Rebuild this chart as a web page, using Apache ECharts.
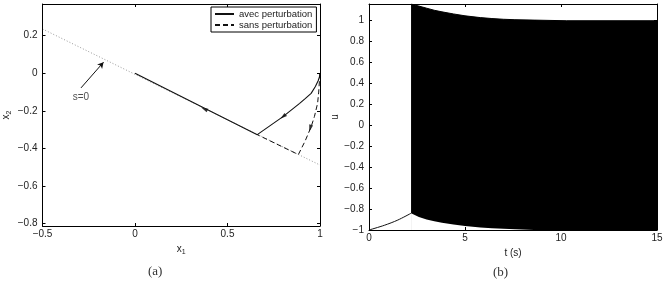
<!DOCTYPE html>
<html>
<head>
<meta charset="utf-8">
<script src="https://cdn.jsdelivr.net/npm/echarts@6/dist/echarts.min.js"></script>
<style>
  html, body { margin: 0; padding: 0; background: #fff; }
  #chart { width: 669px; height: 291px; }
</style>
</head>
<body>
<div id="chart"></div>
<script>
// (a) plan de phase
var sLineX = [-0.5, 1];
var sLineY = [0.236, -0.489];
var avecX = [1, 0.997, 0.99, 0.975, 0.952, 0.92, 0.89, 0.80, 0.661, 0];
var avecY = [0, -0.02, -0.04, -0.07, -0.107, -0.135, -0.16, -0.231, -0.327, 0];
var sansX = [1, 0.997, 0.993, 0.987, 0.97, 0.952, 0.92, 0.883, 0.661];
var sansY = [0, -0.04, -0.1, -0.16, -0.23, -0.285, -0.36, -0.433, -0.327];
var arrowX = [0.375, 0.80, 0.947];
var arrowY = [-0.19, -0.231, -0.293];
var arrowRot = [64, 128, 164];
var noteFrom = [-0.292, -0.078];
var noteTo = [-0.17, 0.059];
var noteText = [-0.292, -0.126];
var yTicksA = [-0.8, -0.6, -0.4, -0.2, 0, 0.2];

// (b) commande u(t)
var startT = [0, 0.8, 1.5, 2.19];
var startU = [-1, -0.955, -0.905, -0.84];
var envT = [2.19, 2.6, 3.0, 3.4, 3.8, 4.4, 5.0, 5.8, 6.4, 7.0, 7.6, 8.6, 10.3, 15];
var envUpper = [1.16, 1.14, 1.12, 1.10, 1.085, 1.065, 1.047, 1.03, 1.021, 1.014, 1.010, 1.006, 1.0, 1.0];
var envLower = [-0.84, -0.875, -0.9, -0.916, -0.93, -0.948, -0.962, -0.976, -0.984, -0.989, -0.993, -0.999, -1, -1];
var yTicksB = [-1, -0.8, -0.6, -0.4, -0.2, 0, 0.2, 0.4, 0.6, 0.8, 1];

function zip(a, b) {
    var out = [];
    for (var i = 0; i < a.length; i++) out.push([a[i], b[i]]);
    return out;
}
function fmt(v) { return String(v).replace('-', '\u2212'); }

var font = 'Liberation Sans';
var nameStyle = { fontFamily: font, fontSize: 10, color: '#222', rich: { sub: { fontSize: 7, padding: [6, 0, 0, 0] } } };
function bottomAxis(grid, min, max, interval, name, gap) {
    return {
        gridIndex: grid, type: 'value', position: 'bottom', min: min, max: max, interval: interval, z: 5,
        name: name, nameLocation: 'middle', nameGap: gap, nameTextStyle: nameStyle,
        axisLine: { onZero: false, lineStyle: { color: '#000', width: 1 } },
        axisTick: { inside: true, length: 3, lineStyle: { color: '#000' } },
        axisLabel: { margin: 3, formatter: fmt, fontFamily: font, fontSize: 10, color: '#222' },
        splitLine: { show: false }
    };
}
function topAxis(grid, min, max, interval) {
    return {
        gridIndex: grid, type: 'value', position: 'top', min: min, max: max, interval: interval, z: 5,
        axisLine: { onZero: false, lineStyle: { color: '#000', width: 1 } },
        axisTick: { inside: true, length: 3, lineStyle: { color: '#000' } },
        axisLabel: { show: false }, splitLine: { show: false }
    };
}
function leftAxis(grid, min, max, ticks, name, gap) {
    return {
        gridIndex: grid, type: 'value', position: 'left', min: min, max: max, z: 5,
        name: name, nameLocation: 'middle', nameGap: gap, nameRotate: 90, nameTextStyle: nameStyle,
        axisLine: { onZero: false, lineStyle: { color: '#000', width: 1 } },
        axisTick: { inside: true, length: 3, customValues: ticks, lineStyle: { color: '#000' } },
        axisLabel: { margin: 5, customValues: ticks, formatter: fmt, fontFamily: font, fontSize: 10, color: '#222' },
        splitLine: { show: false }
    };
}
function rightAxis(grid, min, max, ticks) {
    return {
        gridIndex: grid, type: 'value', position: 'right', min: min, max: max, z: 5,
        axisLine: { onZero: false, lineStyle: { color: '#000', width: 1 } },
        axisTick: { inside: true, length: 3, customValues: ticks, lineStyle: { color: '#000' } },
        axisLabel: { show: false }, splitLine: { show: false }
    };
}

var arrowData = [];
for (var j = 0; j < arrowX.length; j++) {
    arrowData.push({ value: [arrowX[j], arrowY[j]], symbolRotate: arrowRot[j] });
}

var chart = echarts.init(document.getElementById('chart'));
chart.setOption({
    animation: false,
    backgroundColor: '#fff',
    title: [
        { text: '(a)', left: 148, top: 265, padding: 0, textStyle: { fontFamily: 'Liberation Serif', fontSize: 13, fontWeight: 'normal', color: '#333' } },
        { text: '(b)', left: 493, top: 266, padding: 0, textStyle: { fontFamily: 'Liberation Serif', fontSize: 13, fontWeight: 'normal', color: '#333' } }
    ],
    legend: {
        left: 211, top: 7, orient: 'vertical', itemGap: 1, itemWidth: 19, itemHeight: 8,
        padding: [2, 4, 2, 3], borderColor: '#000', borderWidth: 1, backgroundColor: '#fff',
        itemStyle: { opacity: 0 },
        textStyle: { fontFamily: font, fontSize: 9.5, color: '#222' },
        data: ['avec perturbation', 'sans perturbation']
    },
    grid: [
        { left: 38, top: 4, width: 282, height: 222 },
        { left: 369, top: 4, width: 288, height: 226 }
    ],
    xAxis: [
        bottomAxis(0, -0.5, 1, 0.5, 'x{sub|1}', 15),
        topAxis(0, -0.5, 1, 0.5),
        bottomAxis(1, 0, 15, 5, 't (s)', 15),
        topAxis(1, 0, 15, 5)
    ],
    yAxis: [
        leftAxis(0, -0.8135, 0.369, yTicksA, 'x{sub|2}', 30),
        rightAxis(0, -0.8135, 0.369, yTicksA),
        leftAxis(1, -1, 1.16, yTicksB, 'u', 28),
        rightAxis(1, -1, 1.16, yTicksB)
    ],
    series: [
        {
            name: 's=0', type: 'line', xAxisIndex: 0, yAxisIndex: 0, data: zip(sLineX, sLineY),
            symbol: 'none', lineStyle: { color: '#999', width: 1, type: [1, 2] }, silent: true,
            markLine: {
                silent: true, symbol: ['none', 'arrow'], symbolSize: [5, 6], label: { show: false },
                lineStyle: { color: '#111', width: 1, type: 'solid' },
                data: [[{ coord: noteFrom }, { coord: noteTo }]]
            }
        },
        {
            name: 'sans perturbation', type: 'line', xAxisIndex: 0, yAxisIndex: 0, data: zip(sansX, sansY),
            symbol: 'none', itemStyle: { color: '#111' }, lineStyle: { color: '#111', width: 1, type: [5, 3] }
        },
        {
            name: 'avec perturbation', type: 'line', xAxisIndex: 0, yAxisIndex: 0, data: zip(avecX, avecY),
            symbol: 'none', itemStyle: { color: '#111' }, lineStyle: { color: '#111', width: 1.1, type: 'solid' }
        },
        {
            name: 'fleches', type: 'scatter', xAxisIndex: 0, yAxisIndex: 0, data: arrowData,
            symbol: 'triangle', symbolSize: [4, 7], itemStyle: { color: '#000' }, silent: true
        },
        {
            name: 'note', type: 'scatter', xAxisIndex: 0, yAxisIndex: 0, data: [noteText],
            symbolSize: 0, silent: true,
            label: { show: true, position: 'inside', formatter: 's=0', fontFamily: font, fontSize: 10, color: '#222' }
        },
        {
            name: 'haut', type: 'line', xAxisIndex: 2, yAxisIndex: 2, data: zip(envT, envUpper), z: 2,
            symbol: 'none', lineStyle: { color: '#000', width: 1 },
            areaStyle: { color: '#000', opacity: 1, origin: 'start' }
        },
        {
            name: 'bas', type: 'line', xAxisIndex: 2, yAxisIndex: 2, data: zip(envT, envLower), z: 3,
            symbol: 'none', lineStyle: { width: 0, opacity: 0 },
            areaStyle: { color: '#fff', opacity: 1, origin: 'start' }
        },
        {
            name: 'u0', type: 'line', xAxisIndex: 2, yAxisIndex: 2, data: zip(startT, startU), z: 4,
            symbol: 'none', smooth: 0.3, lineStyle: { color: '#111', width: 1 }
        }
    ]
});
</script>
</body>
</html>
